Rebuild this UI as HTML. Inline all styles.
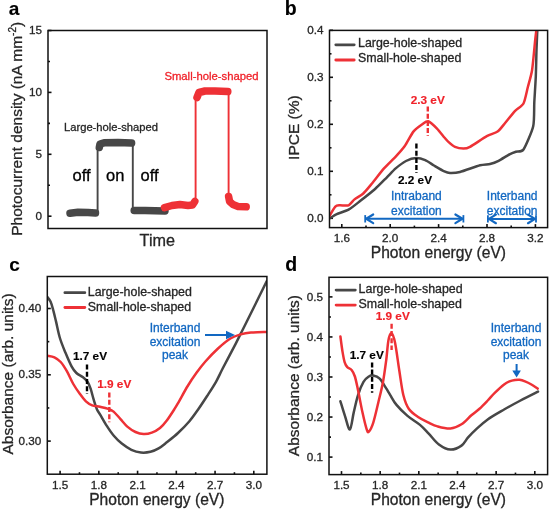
<!DOCTYPE html>
<html><head><meta charset="utf-8"><style>
html,body{margin:0;padding:0;background:#fff;width:550px;height:509px;overflow:hidden}
svg{display:block;font-family:"Liberation Sans", sans-serif;filter:blur(0.3px)}
</style></head><body>
<svg width="550" height="509" viewBox="0 0 550 509">
<rect width="550" height="509" fill="#fff"/>
<text x="8.80" y="15.00" font-size="19" text-anchor="start" fill="#000" stroke="#000" stroke-width="0.15" font-weight="bold" >a</text>
<line x1="48.00" y1="216.20" x2="51.50" y2="216.20" stroke="#111" stroke-width="1.6" />
<line x1="48.00" y1="154.30" x2="51.50" y2="154.30" stroke="#111" stroke-width="1.6" />
<line x1="48.00" y1="92.40" x2="51.50" y2="92.40" stroke="#111" stroke-width="1.6" />
<line x1="48.00" y1="30.50" x2="51.50" y2="30.50" stroke="#111" stroke-width="1.6" />
<line x1="48.00" y1="185.25" x2="50.00" y2="185.25" stroke="#111" stroke-width="1.6" />
<line x1="48.00" y1="123.35" x2="50.00" y2="123.35" stroke="#111" stroke-width="1.6" />
<line x1="48.00" y1="61.45" x2="50.00" y2="61.45" stroke="#111" stroke-width="1.6" />
<text x="42.00" y="219.80" font-size="11.7" text-anchor="end" fill="#262626" stroke="#262626" stroke-width="0.3" font-weight="normal" >0</text>
<text x="42.00" y="157.90" font-size="11.7" text-anchor="end" fill="#262626" stroke="#262626" stroke-width="0.3" font-weight="normal" >5</text>
<text x="42.00" y="96.00" font-size="11.7" text-anchor="end" fill="#262626" stroke="#262626" stroke-width="0.3" font-weight="normal" >10</text>
<text x="42.00" y="34.10" font-size="11.7" text-anchor="end" fill="#262626" stroke="#262626" stroke-width="0.3" font-weight="normal" >15</text>
<text x="157.30" y="246.20" font-size="16.2" text-anchor="middle" fill="#262626" stroke="#262626" stroke-width="0.3" font-weight="normal" >Time</text>
<text x="21.60" y="128.80" font-size="15.5" text-anchor="middle" fill="#262626" stroke="#262626" stroke-width="0.3" transform="rotate(-90 21.60 128.80)">Photocurrent density (nA mm<tspan font-size="10" dy="-6">-2</tspan><tspan dy="6">)</tspan></text>
<polyline points="70.00,213.20 78.00,212.20 88.00,212.50 95.50,213.00" fill="none" stroke="#474747" stroke-width="7.5" stroke-linejoin="round" stroke-linecap="round" />
<line x1="97.60" y1="213.00" x2="97.60" y2="148.00" stroke="#474747" stroke-width="1.9" />
<polyline points="99.30,147.50 100.00,144.00 104.00,142.80 118.00,142.50 131.60,143.00" fill="none" stroke="#474747" stroke-width="7.5" stroke-linejoin="round" stroke-linecap="round" />
<line x1="132.80" y1="146.00" x2="132.80" y2="208.00" stroke="#474747" stroke-width="1.9" />
<polyline points="134.20,210.50 145.00,210.50 155.00,210.80 165.00,211.00" fill="none" stroke="#474747" stroke-width="7.5" stroke-linejoin="round" stroke-linecap="round" />
<text x="81.50" y="181.30" font-size="16.5" text-anchor="middle" fill="#000" stroke="#000" stroke-width="0.3" font-weight="normal" >off</text>
<text x="115.20" y="181.30" font-size="16.5" text-anchor="middle" fill="#000" stroke="#000" stroke-width="0.3" font-weight="normal" >on</text>
<text x="149.60" y="181.30" font-size="16.5" text-anchor="middle" fill="#000" stroke="#000" stroke-width="0.3" font-weight="normal" >off</text>
<text x="64.00" y="130.60" font-size="11.2" text-anchor="start" fill="#262626" stroke="#262626" stroke-width="0.3" font-weight="normal" >Large-hole-shaped</text>
<polyline points="164.50,207.60 172.00,205.50 180.00,204.60 188.00,205.40 192.50,205.00 194.80,201.50" fill="none" stroke="#ee3136" stroke-width="7.5" stroke-linejoin="round" stroke-linecap="round" />
<line x1="195.60" y1="200.00" x2="195.60" y2="97.00" stroke="#ee3136" stroke-width="1.9" />
<polyline points="197.00,97.50 199.00,92.50 205.00,91.00 215.00,91.00 227.80,91.50" fill="none" stroke="#ee3136" stroke-width="7.5" stroke-linejoin="round" stroke-linecap="round" />
<line x1="228.60" y1="94.00" x2="228.60" y2="197.00" stroke="#ee3136" stroke-width="1.9" />
<polyline points="228.60,196.50 229.60,201.50 233.00,204.60 238.00,206.50 246.20,206.80" fill="none" stroke="#ee3136" stroke-width="7.5" stroke-linejoin="round" stroke-linecap="round" />
<text x="164.40" y="79.60" font-size="11.3" text-anchor="start" fill="#f0222a" stroke="#f0222a" stroke-width="0.3" font-weight="normal" >Small-hole-shaped</text>
<rect x="48.00" y="30.50" width="219.00" height="198.00" fill="none" stroke="#111" stroke-width="1.5"/>
<text x="284.80" y="15.20" font-size="19.5" text-anchor="start" fill="#000" stroke="#000" stroke-width="0.15" font-weight="bold" >b</text>
<line x1="329.50" y1="218.30" x2="333.00" y2="218.30" stroke="#111" stroke-width="1.6" />
<line x1="329.50" y1="171.30" x2="333.00" y2="171.30" stroke="#111" stroke-width="1.6" />
<line x1="329.50" y1="124.30" x2="333.00" y2="124.30" stroke="#111" stroke-width="1.6" />
<line x1="329.50" y1="77.30" x2="333.00" y2="77.30" stroke="#111" stroke-width="1.6" />
<line x1="329.50" y1="30.30" x2="333.00" y2="30.30" stroke="#111" stroke-width="1.6" />
<line x1="329.50" y1="194.80" x2="331.50" y2="194.80" stroke="#111" stroke-width="1.6" />
<line x1="329.50" y1="147.80" x2="331.50" y2="147.80" stroke="#111" stroke-width="1.6" />
<line x1="329.50" y1="100.80" x2="331.50" y2="100.80" stroke="#111" stroke-width="1.6" />
<line x1="329.50" y1="53.80" x2="331.50" y2="53.80" stroke="#111" stroke-width="1.6" />
<text x="323.50" y="221.90" font-size="11.7" text-anchor="end" fill="#262626" stroke="#262626" stroke-width="0.3" font-weight="normal" >0.0</text>
<text x="323.50" y="174.90" font-size="11.7" text-anchor="end" fill="#262626" stroke="#262626" stroke-width="0.3" font-weight="normal" >0.1</text>
<text x="323.50" y="127.90" font-size="11.7" text-anchor="end" fill="#262626" stroke="#262626" stroke-width="0.3" font-weight="normal" >0.2</text>
<text x="323.50" y="80.90" font-size="11.7" text-anchor="end" fill="#262626" stroke="#262626" stroke-width="0.3" font-weight="normal" >0.3</text>
<text x="323.50" y="33.90" font-size="11.7" text-anchor="end" fill="#262626" stroke="#262626" stroke-width="0.3" font-weight="normal" >0.4</text>
<line x1="341.80" y1="227.60" x2="341.80" y2="224.10" stroke="#111" stroke-width="1.6" />
<line x1="390.20" y1="227.60" x2="390.20" y2="224.10" stroke="#111" stroke-width="1.6" />
<line x1="438.60" y1="227.60" x2="438.60" y2="224.10" stroke="#111" stroke-width="1.6" />
<line x1="487.00" y1="227.60" x2="487.00" y2="224.10" stroke="#111" stroke-width="1.6" />
<line x1="535.40" y1="227.60" x2="535.40" y2="224.10" stroke="#111" stroke-width="1.6" />
<line x1="366.00" y1="227.60" x2="366.00" y2="225.60" stroke="#111" stroke-width="1.6" />
<line x1="414.40" y1="227.60" x2="414.40" y2="225.60" stroke="#111" stroke-width="1.6" />
<line x1="462.80" y1="227.60" x2="462.80" y2="225.60" stroke="#111" stroke-width="1.6" />
<line x1="511.20" y1="227.60" x2="511.20" y2="225.60" stroke="#111" stroke-width="1.6" />
<text x="341.80" y="242.00" font-size="11.7" text-anchor="middle" fill="#262626" stroke="#262626" stroke-width="0.3" font-weight="normal" >1.6</text>
<text x="390.20" y="242.00" font-size="11.7" text-anchor="middle" fill="#262626" stroke="#262626" stroke-width="0.3" font-weight="normal" >2.0</text>
<text x="438.60" y="242.00" font-size="11.7" text-anchor="middle" fill="#262626" stroke="#262626" stroke-width="0.3" font-weight="normal" >2.4</text>
<text x="487.00" y="242.00" font-size="11.7" text-anchor="middle" fill="#262626" stroke="#262626" stroke-width="0.3" font-weight="normal" >2.8</text>
<text x="535.40" y="242.00" font-size="11.7" text-anchor="middle" fill="#262626" stroke="#262626" stroke-width="0.3" font-weight="normal" >3.2</text>
<text x="438.40" y="257.60" font-size="15.6" text-anchor="middle" fill="#262626" stroke="#262626" stroke-width="0.3" font-weight="normal" >Photon energy (eV)</text>
<text x="299.50" y="127.60" font-size="15.5" text-anchor="middle" fill="#262626" stroke="#262626" stroke-width="0.3" transform="rotate(-90 299.50 127.60)">IPCE (%)</text>
<clipPath id="cb"><rect x="329.5" y="30.4" width="218.1" height="197.2"/></clipPath>
<path d="M329.50,218.50 C330.35,217.99 334.57,215.13 336.80,214.10 C339.03,213.07 345.85,211.25 348.60,209.70 C351.35,208.15 357.31,203.22 360.40,200.80 C363.49,198.39 372.01,191.74 375.10,189.00 C378.19,186.26 384.50,179.70 386.90,177.30 C389.30,174.90 393.47,170.30 395.70,168.40 C397.93,166.50 403.58,162.20 406.00,161.00 C408.42,159.80 414.16,158.19 416.40,158.10 C418.64,158.01 423.15,159.34 425.20,160.20 C427.25,161.06 431.76,164.19 434.00,165.50 C436.24,166.81 442.53,170.53 444.40,171.40 C446.27,172.28 448.18,172.93 450.00,173.00 C451.82,173.07 456.49,172.90 460.00,172.00 C463.51,171.10 476.60,166.23 480.10,165.30 C483.60,164.37 487.84,164.53 490.00,164.00 C492.16,163.47 496.33,161.93 498.60,160.80 C500.88,159.67 507.48,155.36 509.50,154.30 C511.52,153.24 514.27,152.26 515.90,151.70 C517.53,151.14 521.48,152.47 523.50,149.50 C525.52,146.53 531.94,131.69 533.20,126.20 C534.46,120.70 534.00,108.20 534.30,102.40 C534.60,96.60 535.54,82.61 535.80,76.50 C536.06,70.39 536.33,55.37 536.50,50.00 C536.67,44.63 537.21,32.77 537.30,30.50" fill="none" stroke="#474747" stroke-width="2.5" stroke-linejoin="round" stroke-linecap="round" clip-path="url(#cb)"/>
<path d="M329.50,216.00 C330.18,214.91 334.11,207.95 335.30,206.70 C336.49,205.45 338.15,205.46 339.70,205.30 C341.25,205.14 346.87,205.99 348.60,205.30 C350.33,204.61 352.79,200.78 354.50,199.40 C356.21,198.02 361.24,195.39 363.30,193.50 C365.37,191.61 369.78,186.13 372.20,183.20 C374.62,180.27 381.26,171.50 384.00,168.40 C386.74,165.30 393.30,159.18 395.70,156.60 C398.10,154.02 402.54,149.22 404.60,146.30 C406.67,143.38 411.33,134.18 413.40,131.60 C415.46,129.02 420.57,125.40 422.30,124.20 C424.03,123.00 426.49,120.79 428.20,121.30 C429.91,121.81 435.11,126.71 437.00,128.60 C438.89,130.49 443.07,135.95 444.40,137.50 C445.73,139.05 447.16,140.80 448.40,141.90 C449.64,143.00 453.25,146.12 455.00,146.90 C456.75,147.68 461.65,148.60 463.40,148.60 C465.15,148.60 467.27,148.35 470.00,146.90 C472.73,145.45 483.58,137.98 486.80,136.20 C490.02,134.41 495.47,133.14 497.60,131.60 C499.74,130.06 503.08,125.39 505.10,123.00 C507.12,120.61 512.75,113.38 514.90,111.10 C517.05,108.82 522.00,106.28 523.50,103.50 C525.00,100.72 526.80,91.21 527.80,87.30 C528.80,83.39 531.24,75.52 532.10,70.00 C532.96,64.48 534.71,44.61 535.20,40.00 C535.69,35.39 536.17,31.61 536.30,30.50" fill="none" stroke="#ee3136" stroke-width="2.5" stroke-linejoin="round" stroke-linecap="round" clip-path="url(#cb)"/>
<line x1="335.80" y1="44.80" x2="354.20" y2="44.80" stroke="#474747" stroke-width="2.8" stroke-linecap="round"/>
<line x1="335.80" y1="60.00" x2="354.20" y2="60.00" stroke="#ee3136" stroke-width="2.8" stroke-linecap="round"/>
<text x="358.00" y="47.30" font-size="12.4" text-anchor="start" fill="#262626" stroke="#262626" stroke-width="0.3" font-weight="normal" >Large-hole-shaped</text>
<text x="358.00" y="62.30" font-size="12.4" text-anchor="start" fill="#262626" stroke="#262626" stroke-width="0.3" font-weight="normal" >Small-hole-shaped</text>
<line x1="427.80" y1="106.50" x2="427.80" y2="136.00" stroke="#ee3136" stroke-width="2.4" stroke-dasharray="5 2.2"/>
<line x1="416.40" y1="143.50" x2="416.40" y2="173.00" stroke="#000" stroke-width="2.4" stroke-dasharray="5 2.2"/>
<text x="427.70" y="103.50" font-size="11.8" text-anchor="middle" fill="#f0222a" stroke="#f0222a" stroke-width="0.15" font-weight="bold" >2.3 eV</text>
<text x="415.00" y="184.00" font-size="11.8" text-anchor="middle" fill="#000" stroke="#000" stroke-width="0.15" font-weight="bold" >2.2 eV</text>
<text x="416.40" y="200.30" font-size="12" text-anchor="middle" fill="#1268c2" stroke="#1268c2" stroke-width="0.3" font-weight="normal" >Intraband</text>
<text x="416.40" y="214.90" font-size="12" text-anchor="middle" fill="#1268c2" stroke="#1268c2" stroke-width="0.3" font-weight="normal" >excitation</text>
<text x="512.20" y="200.10" font-size="12" text-anchor="middle" fill="#1268c2" stroke="#1268c2" stroke-width="0.3" font-weight="normal" >Interband</text>
<text x="512.20" y="214.90" font-size="12" text-anchor="middle" fill="#1268c2" stroke="#1268c2" stroke-width="0.3" font-weight="normal" >excitation</text>
<line x1="366.20" y1="218.80" x2="462.40" y2="218.80" stroke="#1268c2" stroke-width="2" />
<line x1="365.20" y1="215.10" x2="365.20" y2="222.50" stroke="#1268c2" stroke-width="1.8" />
<line x1="463.40" y1="215.10" x2="463.40" y2="222.50" stroke="#1268c2" stroke-width="1.8" />
<polyline points="373.2,214.5 366.2,218.8 373.2,223.10000000000002" fill="none" stroke="#1268c2" stroke-width="2.2" stroke-linecap="round" stroke-linejoin="round"/>
<polyline points="455.4,214.5 462.4,218.8 455.4,223.10000000000002" fill="none" stroke="#1268c2" stroke-width="2.2" stroke-linecap="round" stroke-linejoin="round"/>
<line x1="488.90" y1="218.90" x2="535.00" y2="218.90" stroke="#1268c2" stroke-width="2" />
<line x1="487.90" y1="215.20" x2="487.90" y2="222.60" stroke="#1268c2" stroke-width="1.8" />
<line x1="536.00" y1="215.20" x2="536.00" y2="222.60" stroke="#1268c2" stroke-width="1.8" />
<polyline points="495.9,214.6 488.9,218.9 495.9,223.20000000000002" fill="none" stroke="#1268c2" stroke-width="2.2" stroke-linecap="round" stroke-linejoin="round"/>
<polyline points="528,214.6 535,218.9 528,223.20000000000002" fill="none" stroke="#1268c2" stroke-width="2.2" stroke-linecap="round" stroke-linejoin="round"/>
<rect x="329.50" y="30.40" width="218.10" height="197.20" fill="none" stroke="#111" stroke-width="1.5"/>
<text x="9.30" y="271.00" font-size="19" text-anchor="start" fill="#000" stroke="#000" stroke-width="0.15" font-weight="bold" >c</text>
<line x1="47.30" y1="441.10" x2="50.80" y2="441.10" stroke="#111" stroke-width="1.6" />
<line x1="47.30" y1="374.80" x2="50.80" y2="374.80" stroke="#111" stroke-width="1.6" />
<line x1="47.30" y1="308.50" x2="50.80" y2="308.50" stroke="#111" stroke-width="1.6" />
<line x1="47.30" y1="407.95" x2="49.30" y2="407.95" stroke="#111" stroke-width="1.6" />
<line x1="47.30" y1="341.65" x2="49.30" y2="341.65" stroke="#111" stroke-width="1.6" />
<text x="41.30" y="444.70" font-size="11.7" text-anchor="end" fill="#262626" stroke="#262626" stroke-width="0.3" font-weight="normal" >0.30</text>
<text x="41.30" y="378.40" font-size="11.7" text-anchor="end" fill="#262626" stroke="#262626" stroke-width="0.3" font-weight="normal" >0.35</text>
<text x="41.30" y="312.10" font-size="11.7" text-anchor="end" fill="#262626" stroke="#262626" stroke-width="0.3" font-weight="normal" >0.40</text>
<line x1="60.10" y1="474.20" x2="60.10" y2="470.70" stroke="#111" stroke-width="1.6" />
<line x1="98.84" y1="474.20" x2="98.84" y2="470.70" stroke="#111" stroke-width="1.6" />
<line x1="137.58" y1="474.20" x2="137.58" y2="470.70" stroke="#111" stroke-width="1.6" />
<line x1="176.32" y1="474.20" x2="176.32" y2="470.70" stroke="#111" stroke-width="1.6" />
<line x1="215.06" y1="474.20" x2="215.06" y2="470.70" stroke="#111" stroke-width="1.6" />
<line x1="253.80" y1="474.20" x2="253.80" y2="470.70" stroke="#111" stroke-width="1.6" />
<line x1="79.47" y1="474.20" x2="79.47" y2="472.20" stroke="#111" stroke-width="1.6" />
<line x1="118.21" y1="474.20" x2="118.21" y2="472.20" stroke="#111" stroke-width="1.6" />
<line x1="156.95" y1="474.20" x2="156.95" y2="472.20" stroke="#111" stroke-width="1.6" />
<line x1="195.69" y1="474.20" x2="195.69" y2="472.20" stroke="#111" stroke-width="1.6" />
<line x1="234.43" y1="474.20" x2="234.43" y2="472.20" stroke="#111" stroke-width="1.6" />
<text x="60.10" y="489.00" font-size="11.7" text-anchor="middle" fill="#262626" stroke="#262626" stroke-width="0.3" font-weight="normal" >1.5</text>
<text x="98.84" y="489.00" font-size="11.7" text-anchor="middle" fill="#262626" stroke="#262626" stroke-width="0.3" font-weight="normal" >1.8</text>
<text x="137.58" y="489.00" font-size="11.7" text-anchor="middle" fill="#262626" stroke="#262626" stroke-width="0.3" font-weight="normal" >2.1</text>
<text x="176.32" y="489.00" font-size="11.7" text-anchor="middle" fill="#262626" stroke="#262626" stroke-width="0.3" font-weight="normal" >2.4</text>
<text x="215.06" y="489.00" font-size="11.7" text-anchor="middle" fill="#262626" stroke="#262626" stroke-width="0.3" font-weight="normal" >2.7</text>
<text x="253.80" y="489.00" font-size="11.7" text-anchor="middle" fill="#262626" stroke="#262626" stroke-width="0.3" font-weight="normal" >3.0</text>
<text x="156.80" y="504.80" font-size="15.6" text-anchor="middle" fill="#262626" stroke="#262626" stroke-width="0.3" font-weight="normal" >Photon energy (eV)</text>
<text x="12.90" y="374.00" font-size="15.5" text-anchor="middle" fill="#262626" stroke="#262626" stroke-width="0.3" transform="rotate(-90 12.90 374.00)">Absorbance (arb. units)</text>
<clipPath id="cc"><rect x="47.3" y="276.5" width="219.6" height="197.7"/></clipPath>
<path d="M47.40,297.10 C47.92,297.83 49.58,299.53 50.50,301.50 C51.42,303.47 51.98,305.58 52.90,308.90 C53.82,312.22 54.83,316.55 56.00,321.40 C57.17,326.25 58.33,332.80 59.90,338.00 C61.47,343.20 63.43,347.82 65.40,352.60 C67.37,357.38 69.87,363.30 71.70,366.70 C73.53,370.10 74.57,371.28 76.40,373.00 C78.23,374.72 80.85,375.55 82.70,377.00 C84.55,378.45 86.18,379.75 87.50,381.70 C88.82,383.65 89.57,385.70 90.60,388.70 C91.63,391.70 92.65,396.28 93.70,399.70 C94.75,403.12 95.85,406.77 96.90,409.20 C97.95,411.63 98.35,411.52 100.00,414.30 C101.65,417.08 104.53,422.37 106.80,425.90 C109.07,429.43 111.10,432.55 113.60,435.50 C116.10,438.45 118.83,441.22 121.80,443.60 C124.77,445.98 128.22,448.32 131.40,449.80 C134.58,451.28 137.72,452.17 140.90,452.50 C144.08,452.83 147.55,452.48 150.50,451.80 C153.45,451.12 155.88,449.98 158.60,448.40 C161.32,446.82 163.57,444.87 166.80,442.30 C170.03,439.73 174.23,436.52 178.00,433.00 C181.77,429.48 186.02,425.17 189.40,421.20 C192.78,417.23 195.35,413.40 198.30,409.20 C201.25,405.00 204.15,400.57 207.10,396.00 C210.05,391.43 213.38,386.42 216.00,381.80 C218.62,377.18 219.55,374.58 222.80,368.30 C226.05,362.02 232.10,350.70 235.50,344.10 C238.90,337.50 240.22,334.67 243.20,328.70 C246.18,322.73 249.47,316.25 253.40,308.30 C257.33,300.35 264.57,285.55 266.80,281.00" fill="none" stroke="#474747" stroke-width="2.5" stroke-linejoin="round" stroke-linecap="round" clip-path="url(#cc)"/>
<path d="M47.40,355.70 C48.57,355.97 52.18,356.25 54.40,357.30 C56.62,358.35 58.60,359.65 60.70,362.00 C62.80,364.35 64.90,367.73 67.00,371.40 C69.10,375.07 71.20,380.32 73.30,384.00 C75.40,387.68 77.50,390.62 79.60,393.50 C81.70,396.38 83.80,399.33 85.90,401.30 C88.00,403.27 89.85,404.38 92.20,405.30 C94.55,406.22 97.33,406.20 100.00,406.80 C102.67,407.40 105.93,408.10 108.20,408.90 C110.47,409.70 111.55,409.90 113.60,411.60 C115.65,413.30 118.22,416.60 120.50,419.10 C122.78,421.60 124.80,424.45 127.30,426.60 C129.80,428.75 132.78,430.75 135.50,432.00 C138.22,433.25 140.88,433.98 143.60,434.10 C146.32,434.22 149.07,433.72 151.80,432.70 C154.53,431.68 157.50,430.03 160.00,428.00 C162.50,425.97 164.30,423.80 166.80,420.50 C169.30,417.20 173.00,411.32 175.00,408.20 C177.00,405.08 176.68,405.50 178.80,401.80 C180.92,398.10 184.75,390.83 187.70,386.00 C190.65,381.17 193.55,376.88 196.50,372.80 C199.45,368.72 201.82,365.55 205.40,361.50 C208.98,357.45 213.83,352.33 218.00,348.50 C222.17,344.67 226.62,340.85 230.40,338.50 C234.18,336.15 237.28,335.38 240.70,334.40 C244.12,333.42 246.55,333.00 250.90,332.60 C255.25,332.20 264.15,332.10 266.80,332.00" fill="none" stroke="#ee3136" stroke-width="2.5" stroke-linejoin="round" stroke-linecap="round" clip-path="url(#cc)"/>
<line x1="64.90" y1="292.70" x2="84.80" y2="292.70" stroke="#474747" stroke-width="2.8" stroke-linecap="round"/>
<line x1="64.90" y1="307.50" x2="84.80" y2="307.50" stroke="#ee3136" stroke-width="2.8" stroke-linecap="round"/>
<text x="87.80" y="295.80" font-size="12.4" text-anchor="start" fill="#262626" stroke="#262626" stroke-width="0.3" font-weight="normal" >Large-hole-shaped</text>
<text x="87.80" y="310.80" font-size="12.4" text-anchor="start" fill="#262626" stroke="#262626" stroke-width="0.3" font-weight="normal" >Small-hole-shaped</text>
<line x1="87.00" y1="364.60" x2="87.00" y2="394.00" stroke="#000" stroke-width="2.4" stroke-dasharray="5 2.2"/>
<line x1="109.30" y1="392.60" x2="109.30" y2="422.30" stroke="#ee3136" stroke-width="2.4" stroke-dasharray="5 2.2"/>
<text x="90.00" y="360.30" font-size="11.8" text-anchor="middle" fill="#000" stroke="#000" stroke-width="0.15" font-weight="bold" >1.7 eV</text>
<text x="114.20" y="387.70" font-size="11.8" text-anchor="middle" fill="#f0222a" stroke="#f0222a" stroke-width="0.15" font-weight="bold" >1.9 eV</text>
<text x="175.00" y="331.60" font-size="12" text-anchor="middle" fill="#1268c2" stroke="#1268c2" stroke-width="0.3" font-weight="normal" >Interband</text>
<text x="175.00" y="345.60" font-size="12" text-anchor="middle" fill="#1268c2" stroke="#1268c2" stroke-width="0.3" font-weight="normal" >excitation</text>
<text x="175.00" y="359.00" font-size="12" text-anchor="middle" fill="#1268c2" stroke="#1268c2" stroke-width="0.3" font-weight="normal" >peak</text>
<line x1="205.00" y1="335.00" x2="227.00" y2="335.00" stroke="#1268c2" stroke-width="2" />
<polygon points="226,330.7 235,335 226,339.3" fill="#1268c2"/>
<rect x="47.30" y="276.50" width="219.60" height="197.70" fill="none" stroke="#111" stroke-width="1.5"/>
<text x="285.30" y="271.20" font-size="19.5" text-anchor="start" fill="#000" stroke="#000" stroke-width="0.15" font-weight="bold" >d</text>
<line x1="329.00" y1="457.10" x2="332.50" y2="457.10" stroke="#111" stroke-width="1.6" />
<line x1="329.00" y1="417.05" x2="332.50" y2="417.05" stroke="#111" stroke-width="1.6" />
<line x1="329.00" y1="377.00" x2="332.50" y2="377.00" stroke="#111" stroke-width="1.6" />
<line x1="329.00" y1="336.95" x2="332.50" y2="336.95" stroke="#111" stroke-width="1.6" />
<line x1="329.00" y1="296.90" x2="332.50" y2="296.90" stroke="#111" stroke-width="1.6" />
<line x1="329.00" y1="437.08" x2="331.00" y2="437.08" stroke="#111" stroke-width="1.6" />
<line x1="329.00" y1="397.03" x2="331.00" y2="397.03" stroke="#111" stroke-width="1.6" />
<line x1="329.00" y1="356.98" x2="331.00" y2="356.98" stroke="#111" stroke-width="1.6" />
<line x1="329.00" y1="316.93" x2="331.00" y2="316.93" stroke="#111" stroke-width="1.6" />
<text x="323.00" y="460.70" font-size="11.7" text-anchor="end" fill="#262626" stroke="#262626" stroke-width="0.3" font-weight="normal" >0.1</text>
<text x="323.00" y="420.65" font-size="11.7" text-anchor="end" fill="#262626" stroke="#262626" stroke-width="0.3" font-weight="normal" >0.2</text>
<text x="323.00" y="380.60" font-size="11.7" text-anchor="end" fill="#262626" stroke="#262626" stroke-width="0.3" font-weight="normal" >0.3</text>
<text x="323.00" y="340.55" font-size="11.7" text-anchor="end" fill="#262626" stroke="#262626" stroke-width="0.3" font-weight="normal" >0.4</text>
<text x="323.00" y="300.50" font-size="11.7" text-anchor="end" fill="#262626" stroke="#262626" stroke-width="0.3" font-weight="normal" >0.5</text>
<line x1="341.50" y1="474.60" x2="341.50" y2="471.10" stroke="#111" stroke-width="1.6" />
<line x1="380.16" y1="474.60" x2="380.16" y2="471.10" stroke="#111" stroke-width="1.6" />
<line x1="418.82" y1="474.60" x2="418.82" y2="471.10" stroke="#111" stroke-width="1.6" />
<line x1="457.48" y1="474.60" x2="457.48" y2="471.10" stroke="#111" stroke-width="1.6" />
<line x1="496.14" y1="474.60" x2="496.14" y2="471.10" stroke="#111" stroke-width="1.6" />
<line x1="534.80" y1="474.60" x2="534.80" y2="471.10" stroke="#111" stroke-width="1.6" />
<line x1="360.83" y1="474.60" x2="360.83" y2="472.60" stroke="#111" stroke-width="1.6" />
<line x1="399.49" y1="474.60" x2="399.49" y2="472.60" stroke="#111" stroke-width="1.6" />
<line x1="438.15" y1="474.60" x2="438.15" y2="472.60" stroke="#111" stroke-width="1.6" />
<line x1="476.81" y1="474.60" x2="476.81" y2="472.60" stroke="#111" stroke-width="1.6" />
<line x1="515.47" y1="474.60" x2="515.47" y2="472.60" stroke="#111" stroke-width="1.6" />
<text x="341.50" y="489.30" font-size="11.7" text-anchor="middle" fill="#262626" stroke="#262626" stroke-width="0.3" font-weight="normal" >1.5</text>
<text x="380.16" y="489.30" font-size="11.7" text-anchor="middle" fill="#262626" stroke="#262626" stroke-width="0.3" font-weight="normal" >1.8</text>
<text x="418.82" y="489.30" font-size="11.7" text-anchor="middle" fill="#262626" stroke="#262626" stroke-width="0.3" font-weight="normal" >2.1</text>
<text x="457.48" y="489.30" font-size="11.7" text-anchor="middle" fill="#262626" stroke="#262626" stroke-width="0.3" font-weight="normal" >2.4</text>
<text x="496.14" y="489.30" font-size="11.7" text-anchor="middle" fill="#262626" stroke="#262626" stroke-width="0.3" font-weight="normal" >2.7</text>
<text x="534.80" y="489.30" font-size="11.7" text-anchor="middle" fill="#262626" stroke="#262626" stroke-width="0.3" font-weight="normal" >3.0</text>
<text x="438.40" y="505.20" font-size="15.6" text-anchor="middle" fill="#262626" stroke="#262626" stroke-width="0.3" font-weight="normal" >Photon energy (eV)</text>
<text x="299.20" y="375.60" font-size="15.5" text-anchor="middle" fill="#262626" stroke="#262626" stroke-width="0.3" transform="rotate(-90 299.20 375.60)">Absorbance (arb. units)</text>
<path d="M340.40,401.30 C341.18,403.82 343.52,411.72 345.10,416.40 C346.68,421.08 348.45,430.12 349.90,429.40 C351.35,428.68 352.43,417.87 353.80,412.10 C355.17,406.33 356.48,399.83 358.10,394.80 C359.72,389.77 361.70,384.95 363.50,381.90 C365.30,378.85 367.28,377.58 368.90,376.50 C370.52,375.42 371.40,375.05 373.20,375.40 C375.00,375.75 377.53,376.43 379.70,378.60 C381.87,380.77 384.47,385.70 386.20,388.40 C387.93,391.10 388.38,392.05 390.10,394.80 C391.82,397.55 393.60,401.38 396.50,404.90 C399.40,408.42 403.58,412.57 407.50,415.90 C411.42,419.23 416.47,421.95 420.00,424.90 C423.53,427.85 425.55,430.33 428.70,433.60 C431.85,436.87 435.27,441.83 438.90,444.50 C442.53,447.17 446.73,449.42 450.50,449.60 C454.27,449.78 458.57,447.63 461.50,445.60 C464.43,443.57 465.63,440.13 468.10,437.40 C470.57,434.67 473.03,432.20 476.30,429.20 C479.57,426.20 483.07,422.68 487.70,419.40 C492.33,416.12 498.63,412.65 504.10,409.50 C509.57,406.35 514.85,403.48 520.50,400.50 C526.15,397.52 535.08,393.08 538.00,391.60" fill="none" stroke="#474747" stroke-width="2.5" stroke-linejoin="round" stroke-linecap="round" />
<path d="M340.40,336.50 C340.75,339.02 341.78,347.28 342.50,351.60 C343.22,355.92 343.90,359.80 344.70,362.40 C345.50,365.00 346.15,365.93 347.30,367.20 C348.45,368.47 350.33,368.45 351.60,370.00 C352.87,371.55 353.82,373.08 354.90,376.50 C355.98,379.92 356.85,384.57 358.10,390.50 C359.35,396.43 360.97,405.62 362.40,412.10 C363.83,418.58 365.62,426.15 366.70,429.40 C367.78,432.65 367.82,432.68 368.90,431.60 C369.98,430.52 371.58,427.95 373.20,422.90 C374.82,417.85 376.97,408.13 378.60,401.30 C380.23,394.47 381.73,388.73 383.00,381.90 C384.27,375.07 385.28,367.28 386.20,360.30 C387.12,353.32 387.60,344.48 388.50,340.00 C389.40,335.52 390.50,332.90 391.60,333.40 C392.70,333.90 393.82,336.82 395.10,343.00 C396.38,349.18 397.92,361.78 399.30,370.50 C400.68,379.22 401.80,388.88 403.40,395.30 C405.00,401.72 406.38,405.33 408.90,409.00 C411.42,412.67 415.20,415.02 418.50,417.30 C421.80,419.58 425.53,421.18 428.70,422.70 C431.87,424.22 433.87,425.43 437.50,426.40 C441.13,427.37 446.50,428.85 450.50,428.50 C454.50,428.15 458.02,426.50 461.50,424.30 C464.98,422.10 468.40,417.90 471.40,415.30 C474.40,412.70 476.78,411.17 479.50,408.70 C482.22,406.23 485.12,403.17 487.70,400.50 C490.28,397.83 492.27,395.37 495.00,392.70 C497.73,390.03 501.68,386.38 504.10,384.50 C506.52,382.62 507.68,382.15 509.50,381.40 C511.32,380.65 513.33,380.27 515.00,380.00 C516.67,379.73 517.83,379.57 519.50,379.80 C521.17,380.03 523.02,380.62 525.00,381.40 C526.98,382.18 529.28,383.30 531.40,384.50 C533.52,385.70 536.65,387.92 537.70,388.60" fill="none" stroke="#ee3136" stroke-width="2.5" stroke-linejoin="round" stroke-linecap="round" />
<line x1="336.10" y1="290.10" x2="355.30" y2="290.10" stroke="#474747" stroke-width="2.8" stroke-linecap="round"/>
<line x1="336.10" y1="305.10" x2="355.30" y2="305.10" stroke="#ee3136" stroke-width="2.8" stroke-linecap="round"/>
<text x="358.60" y="293.00" font-size="12.4" text-anchor="start" fill="#262626" stroke="#262626" stroke-width="0.3" font-weight="normal" >Large-hole-shaped</text>
<text x="358.60" y="308.00" font-size="12.4" text-anchor="start" fill="#262626" stroke="#262626" stroke-width="0.3" font-weight="normal" >Small-hole-shaped</text>
<line x1="372.10" y1="362.40" x2="372.10" y2="392.70" stroke="#000" stroke-width="2.4" stroke-dasharray="5 2.2"/>
<line x1="391.60" y1="323.80" x2="391.60" y2="350.00" stroke="#ee3136" stroke-width="2.4" stroke-dasharray="5 2.2"/>
<text x="366.70" y="359.20" font-size="11.8" text-anchor="middle" fill="#000" stroke="#000" stroke-width="0.15" font-weight="bold" >1.7 eV</text>
<text x="392.70" y="319.50" font-size="11.8" text-anchor="middle" fill="#f0222a" stroke="#f0222a" stroke-width="0.15" font-weight="bold" >1.9 eV</text>
<text x="516.00" y="332.40" font-size="12" text-anchor="middle" fill="#1268c2" stroke="#1268c2" stroke-width="0.3" font-weight="normal" >Interband</text>
<text x="516.00" y="346.10" font-size="12" text-anchor="middle" fill="#1268c2" stroke="#1268c2" stroke-width="0.3" font-weight="normal" >excitation</text>
<text x="516.00" y="359.00" font-size="12" text-anchor="middle" fill="#1268c2" stroke="#1268c2" stroke-width="0.3" font-weight="normal" >peak</text>
<line x1="516.60" y1="364.00" x2="516.60" y2="372.00" stroke="#1268c2" stroke-width="2" />
<polygon points="512.3,370.5 520.9,370.5 516.6,377.5" fill="#1268c2"/>
<rect x="329.00" y="277.30" width="218.60" height="197.30" fill="none" stroke="#111" stroke-width="1.5"/>
</svg></body></html>
